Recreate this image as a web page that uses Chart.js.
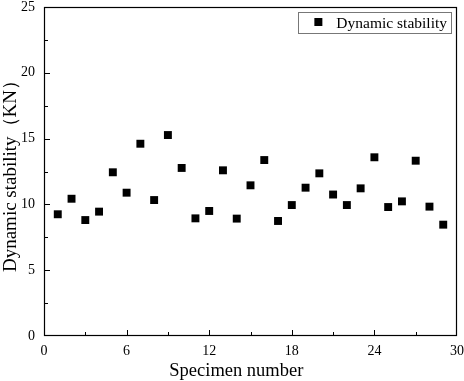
<!DOCTYPE html>
<html lang="en">
<head>
  <meta charset="UTF-8" />
  <title>Dynamic stability of specimens</title>
  <script src="https://cdn.jsdelivr.net/npm/chart.js"></script>
  <style>
    html, body { margin: 0; padding: 0; background: #fff; }
    .chart-container { position: relative; width: 464px; height: 381px; }
  </style>
</head>
<body>
<div class="chart-container"><canvas id="stabilityChart"></canvas></div>
<script>
  // Data
  const specimenNumbers = [1, 2, 3, 4, 5, 6, 7, 8, 9, 10, 11, 12, 13, 14, 15,
    16, 17, 18, 19, 20, 21, 22, 23, 24, 25, 26, 27, 28, 29];
  const stabilityValues = [9.25, 10.43, 8.81, 9.45, 12.44, 10.89, 14.61, 10.33, 15.27, 12.77,
    8.94, 9.50, 12.59, 8.92, 11.45, 13.37, 8.74, 9.95, 11.27, 12.36,
    10.75, 9.95, 11.22, 13.58, 9.80, 10.23, 13.32, 9.83, 8.46];
  const xTickValues = [0, 6, 12, 18, 24, 30];
  const yTickValues = [0, 5, 10, 15, 20, 25];
  const seriesLabel = 'Dynamic stability';
  const xTitle = 'Specimen number';

  const SERIF = '"Liberation Serif", "Times New Roman", serif';

  // frame + inward tick marks + boxed legend inside the plot + x title
  const framePlugin = {
    id: 'frame',
    afterDraw(chart) {
      const { ctx, chartArea: a, scales } = chart;
      ctx.save();
      ctx.strokeStyle = '#000';
      ctx.lineWidth = 1.2;
      ctx.strokeRect(a.left + 0.5, a.top + 0.5, a.right - a.left - 1, a.bottom - a.top - 1);

      ctx.lineWidth = 1;
      ctx.beginPath();
      for (let v = 3; v < 30; v += 3) {
        const px = Math.round(scales.x.getPixelForValue(v)) + 0.5;
        const len = v % 6 === 0 ? 6 : 4;
        ctx.moveTo(px, a.bottom);
        ctx.lineTo(px, a.bottom - len);
      }
      for (let v = 2.5; v < 25; v += 2.5) {
        const py = Math.round(scales.y.getPixelForValue(v)) + 0.5;
        const len = v % 5 === 0 ? 6 : 4;
        ctx.moveTo(a.left, py);
        ctx.lineTo(a.left + len, py);
      }
      ctx.stroke();

      // legend
      ctx.font = '15.5px ' + SERIF;
      const textW = ctx.measureText(seriesLabel).width;
      const boxW = 38 + textW + 4;
      const boxH = 21;
      const bx = a.right - 6 - boxW;
      const by = a.top + 5;
      ctx.strokeStyle = '#777';
      ctx.strokeRect(Math.round(bx) + 0.5, Math.round(by) + 0.5, Math.round(boxW), boxH);
      ctx.fillStyle = '#000';
      ctx.fillRect(bx + 16, by + 6, 8, 8);
      ctx.textBaseline = 'middle';
      ctx.fillText(seriesLabel, bx + 38, by + boxH / 2 + 1);

      // x axis title, sits a little left of the plot centre in the original
      ctx.font = '18.5px ' + SERIF;
      ctx.textAlign = 'center';
      ctx.textBaseline = 'alphabetic';
      ctx.fillText(xTitle, scales.x.getPixelForValue(13.97), 376);
      ctx.restore();
    }
  };

  const ctx = document.getElementById('stabilityChart').getContext('2d');
  new Chart(ctx, {
    type: 'scatter',
    data: {
      datasets: [{
        label: seriesLabel,
        data: specimenNumbers.map((n, i) => ({ x: n, y: stabilityValues[i] })),
        pointStyle: 'rect',
        pointRadius: 5.6,
        backgroundColor: '#000',
        borderColor: '#000',
        borderWidth: 0
      }]
    },
    options: {
      responsive: true,
      maintainAspectRatio: false,
      animation: false,
      layout: { padding: 0 },
      plugins: {
        legend: { display: false },
        tooltip: { enabled: false }
      },
      scales: {
        x: {
          type: 'linear',
          min: 0,
          max: 30,
          afterBuildTicks: s => { s.ticks = xTickValues.map(v => ({ value: v })); },
          afterFit: s => { s.height = 45; s.paddingLeft = 0; s.paddingRight = 7; },
          grid: { display: false, drawTicks: false },
          border: { display: false },
          ticks: { color: '#000', padding: 7, font: { family: SERIF, size: 14 } }
        },
        y: {
          type: 'linear',
          min: 0,
          max: 25,
          afterBuildTicks: s => { s.ticks = yTickValues.map(v => ({ value: v })); },
          afterFit: s => { s.width = 44; s.paddingTop = 7; s.paddingBottom = 0; },
          grid: { display: false, drawTicks: false },
          border: { display: false },
          ticks: { color: '#000', padding: 9, font: { family: SERIF, size: 14, lineHeight: 1 } },
          title: {
            display: true,
            text: 'Dynamic stability（KN）',
            color: '#000',
            padding: { top: 0, bottom: 0 },
            font: { family: SERIF, size: 19 }
          }
        }
      }
    },
    plugins: [framePlugin]
  });
</script>
</body>
</html>
